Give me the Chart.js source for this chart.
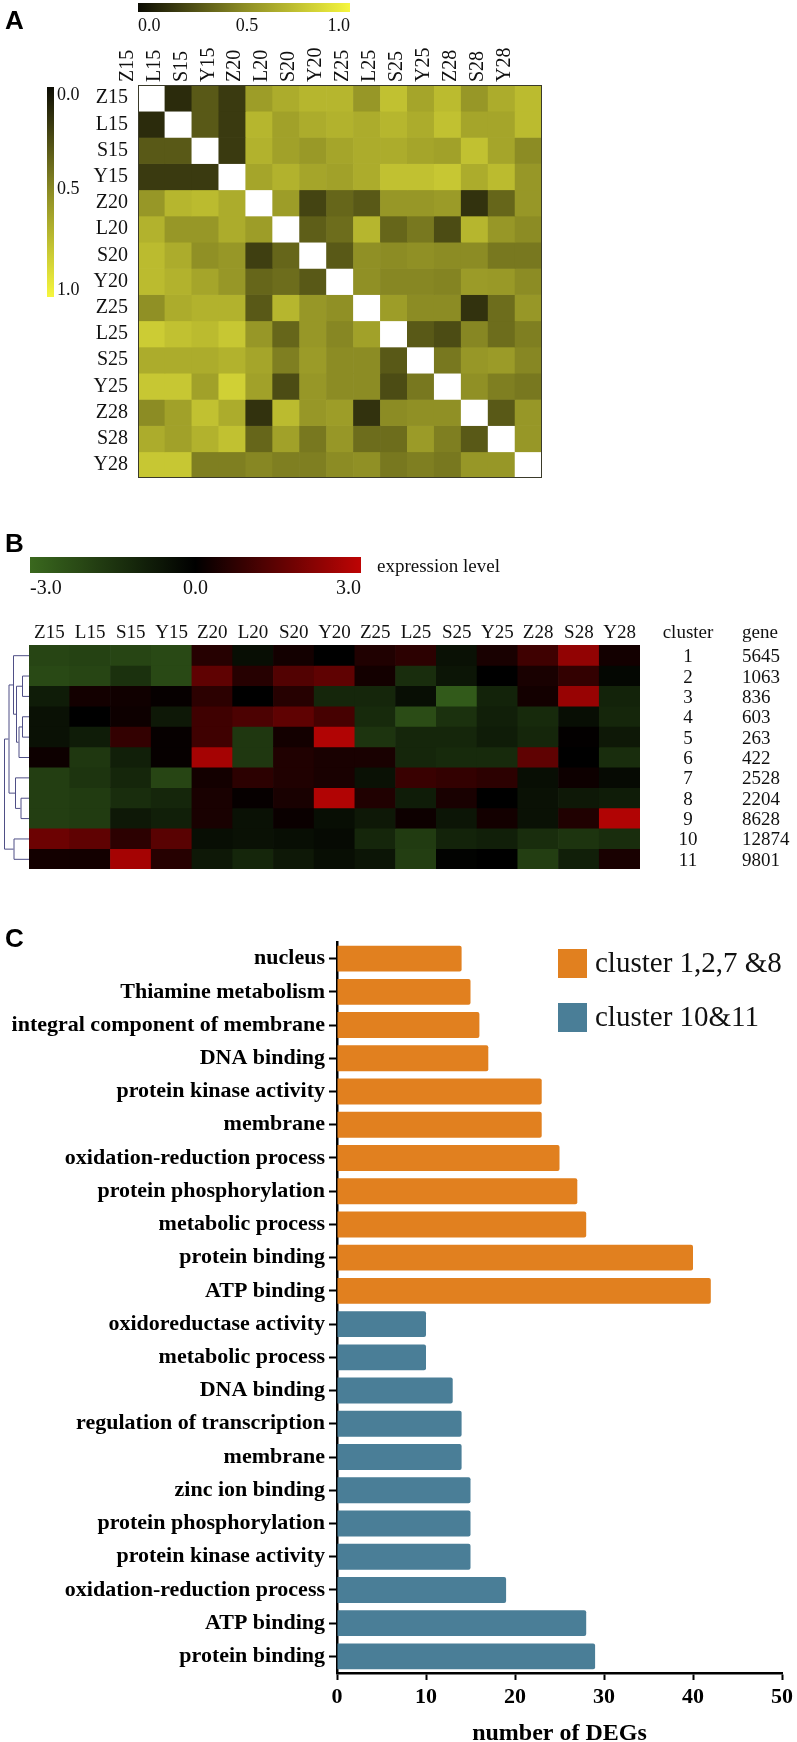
<!DOCTYPE html>
<html><head><meta charset="utf-8">
<script src="https://cdn.jsdelivr.net/npm/chart.js@4.4.1/dist/chart.umd.min.js"></script>
<style>
html,body{margin:0;padding:0;background:#fff;}
body{width:797px;height:1742px;position:relative;overflow:hidden;}
canvas{position:absolute;}
</style></head><body>
<canvas id="cA" width="560" height="500" style="left:0;top:0;width:560px;height:500px"></canvas>
<canvas id="cB" width="797" height="380" style="left:0;top:500px;width:797px;height:380px"></canvas>
<canvas id="cC" width="797" height="848" style="left:0;top:900px;width:797px;height:848px"></canvas>
<script>
// ---------- DATA ----------
const samples = ['Z15','L15','S15','Y15','Z20','L20','S20','Y20','Z25','L25','S25','Y25','Z28','S28','Y28'];
const corrTicks = ['0.0','0.5','1.0'];
const corrValues = [
 [null,0.12,0.30,0.18,0.58,0.65,0.70,0.70,0.55,0.75,0.62,0.72,0.55,0.65,0.72],
 [0.12,null,0.30,0.18,0.70,0.60,0.65,0.68,0.65,0.70,0.65,0.75,0.62,0.62,0.72],
 [0.30,0.30,null,0.18,0.68,0.60,0.56,0.62,0.65,0.65,0.62,0.60,0.75,0.62,0.50],
 [0.18,0.18,0.18,null,0.62,0.68,0.62,0.60,0.65,0.75,0.75,0.78,0.65,0.72,0.55],
 [0.55,0.70,0.72,0.65,null,0.58,0.22,0.35,0.30,0.55,0.55,0.57,0.15,0.35,0.55],
 [0.68,0.55,0.55,0.65,0.58,null,0.32,0.38,0.70,0.35,0.42,0.25,0.70,0.55,0.50],
 [0.72,0.65,0.52,0.55,0.20,0.35,null,0.30,0.52,0.50,0.52,0.50,0.50,0.42,0.42],
 [0.72,0.68,0.62,0.55,0.35,0.38,0.30,null,0.52,0.48,0.48,0.47,0.57,0.56,0.50],
 [0.52,0.65,0.68,0.68,0.30,0.70,0.55,0.52,null,0.58,0.50,0.50,0.15,0.38,0.55],
 [0.80,0.75,0.72,0.78,0.55,0.35,0.55,0.48,0.60,null,0.30,0.25,0.48,0.38,0.45],
 [0.65,0.65,0.65,0.68,0.62,0.45,0.57,0.50,0.50,0.30,null,0.42,0.55,0.57,0.48],
 [0.78,0.78,0.60,0.82,0.60,0.25,0.55,0.50,0.50,0.25,0.42,null,0.52,0.45,0.42],
 [0.50,0.60,0.75,0.65,0.15,0.72,0.55,0.58,0.15,0.50,0.52,0.52,null,0.30,0.55],
 [0.65,0.60,0.68,0.75,0.35,0.60,0.42,0.55,0.38,0.38,0.57,0.45,0.30,null,0.55],
 [0.78,0.78,0.45,0.45,0.48,0.45,0.45,0.50,0.52,0.42,0.45,0.42,0.55,0.55,null]
];

const exprTicks = ['-3.0','0.0','3.0'];
const clusterIds = ['1','2','3','4','5','6','7','8','9','10','11'];
const geneCounts = ['5645','1063','836','603','263','422','2528','2204','8628','12874','9801'];
const exprValues = [
 [-2.0,-1.9,-2.0,-2.1, 0.6,-0.4, 0.3, 0.0, 0.5, 0.7,-0.5, 0.4, 1.0, 2.3, 0.3],
 [-2.1,-2.0,-1.4,-2.1, 1.5, 0.6, 1.3, 1.5, 0.3,-1.3,-0.6, 0.0, 0.4, 0.8,-0.2],
 [-0.8, 0.3, 0.25,0.1, 0.7, 0.0, 0.6,-1.1,-1.1,-0.4,-2.6,-1.0, 0.3, 2.4,-1.0],
 [-0.5, 0.0, 0.2,-0.7, 1.0, 1.2, 1.5, 1.1,-1.2,-2.2,-1.4,-0.9,-1.2,-0.4,-1.1],
 [-0.5,-0.8, 0.8, 0.1, 1.0,-1.6, 0.3, 2.8,-1.5,-1.1,-1.1,-0.8,-1.1, 0.05,-0.7],
 [ 0.2,-1.6,-0.9, 0.1, 2.6,-1.6, 0.5, 0.4, 0.4,-1.1,-1.2,-1.2, 1.5, 0.0,-1.3],
 [-1.8,-1.5,-1.1,-2.0, 0.3, 0.7, 0.5, 0.4,-0.5, 0.9, 0.8, 0.7,-0.4, 0.2,-0.3],
 [-1.8,-1.7,-1.3,-1.1, 0.4, 0.1, 0.4, 2.8, 0.5,-0.8, 0.4, 0.0,-0.5,-0.7,-0.8],
 [-1.8,-1.7,-0.7,-0.9, 0.4,-0.5, 0.15,-0.4,-0.7,0.2,-0.6, 0.3,-0.5, 0.5, 2.8],
 [ 1.7, 1.5, 0.7, 1.4,-0.4,-0.5,-0.4,-0.3,-1.1,-1.7,-1.0,-0.9,-1.3,-1.5,-1.3],
 [ 0.3, 0.3, 2.6, 0.6,-0.7,-1.1,-0.7,-0.4,-0.6,-1.8,-0.1, 0.0,-1.8,-0.9, 0.4]
];
// dendrogram merges: [childA, childB, height 0..1]; leaves 0..10, new nodes 11..
const dendroMerges = [
 [1,2,0.28],[3,4,0.28],[12,5,0.42],[11,13,0.52],[0,14,0.64],
 [7,8,0.34],[6,16,0.56],[15,17,0.82],[9,10,0.62],[18,19,1.0]
];

const orangeLabel = 'cluster 1,2,7 &8';
const blueLabel = 'cluster 10&11';
const orangeTerms = ['nucleus','Thiamine metabolism','integral component of membrane','DNA binding','protein kinase activity','membrane','oxidation-reduction process','protein phosphorylation','metabolic process','protein binding','ATP binding'];
const orangeCounts = [14,15,16,17,23,23,25,27,28,40,42];
const blueTerms = ['oxidoreductase activity','metabolic process','DNA binding','regulation of transcription','membrane','zinc ion binding','protein phosphorylation','protein kinase activity','oxidation-reduction process','ATP binding','protein binding'];
const blueCounts = [10,10,13,14,14,15,15,15,19,28,29];
const degTicks = [0,10,20,30,40,50];

// ---------- HELPERS ----------
const SERIF = "'Liberation Serif','Times New Roman',serif";
const SANS = "'Liberation Sans',Arial,sans-serif";
const corrStops = [[0,[12,12,4]],[0.5,[140,140,36]],[1,[246,246,62]]];
const exprStops = [[0,[58,104,30]],[0.5,[0,0,0]],[1,[190,4,4]]];
function lerpColor(stops,t){
  t=Math.max(0,Math.min(1,t));
  for(let i=1;i<stops.length;i++){
    if(t<=stops[i][0]){
      const [t0,c0]=stops[i-1],[t1,c1]=stops[i];
      const f=(t-t0)/(t1-t0);
      return 'rgb('+[0,1,2].map(k=>Math.round(c0[k]+(c1[k]-c0[k])*f)).join(',')+')';
    }
  }
}
const corrColor = v => v===null ? '#ffffff' : lerpColor(corrStops,v);
const exprColor = v => lerpColor(exprStops,(v+3)/6);
function gradient(ctx,x0,y0,x1,y1,stops){
  const g=ctx.createLinearGradient(x0,y0,x1,y1);
  for(let i=0;i<=20;i++){g.addColorStop(i/20,lerpColor(stops,i/20));}
  return g;
}
Chart.defaults.font.family = SERIF;
Chart.defaults.color = '#111';

// ---------- PANEL A ----------
new Chart(document.getElementById('cA'),{
  type:'bar',
  data:{
    labels:samples,
    datasets:samples.map((rowName,r)=>({
      label:rowName, yAxisID:'y', xAxisID:'x',
      data:samples.map(()=>1),
      backgroundColor:samples.map((c,j)=>corrColor(corrValues[r][j])),
      borderWidth:0, barPercentage:1, categoryPercentage:1, stack:'s'
    }))
  },
  options:{
    responsive:false, animation:false, devicePixelRatio:1,
    layout:{padding:{left:0,top:0,right:18,bottom:13}},
    plugins:{legend:{display:false},tooltip:{enabled:false}},
    scales:{
      x:{type:'category',position:'top',stacked:true,offset:true,
         grid:{display:false,drawTicks:false},border:{display:false},
         ticks:{font:{family:SERIF,size:20},color:'#111',minRotation:90,maxRotation:90,padding:3,autoSkip:false},
         afterFit(s){s.height=85;}},
      y:{type:'linear',stacked:true,min:0,max:samples.length,reverse:true,display:false},
      rows:{type:'category',labels:samples,position:'left',offset:true,
         grid:{display:false,drawTicks:false},border:{display:false},
         ticks:{font:{family:SERIF,size:20},color:'#111',padding:10,autoSkip:false},
         afterFit(s){s.width=138;}}
    }
  },
  plugins:[{id:'panelA',afterDraw(chart){
    const ctx=chart.ctx, ca=chart.chartArea;
    ctx.save();
    ctx.strokeStyle='#3a3a2a';ctx.lineWidth=1;
    ctx.strokeRect(ca.left+0.5,ca.top+0.5,ca.width-1,ca.height-1);
    // panel letter
    ctx.fillStyle='#000';ctx.font='bold 26px '+SANS;ctx.textBaseline='alphabetic';ctx.textAlign='left';
    ctx.fillText('A',5,29);
    // top colour bar
    const tx0=ca.left, tx1=350, ty0=3, ty1=12;
    ctx.fillStyle=gradient(ctx,tx0,0,tx1,0,corrStops);
    ctx.fillRect(tx0,ty0,tx1-tx0,ty1-ty0);
    ctx.fillStyle='#111';ctx.font='18px '+SERIF;ctx.textBaseline='middle';
    ctx.textAlign='left';ctx.fillText(corrTicks[0],tx0,26);
    ctx.textAlign='center';ctx.fillText(corrTicks[1],(tx0+tx1)/2+3,26);
    ctx.textAlign='right';ctx.fillText(corrTicks[2],tx1,26);
    // left colour bar
    const lx0=47, lx1=54, ly0=87, ly1=297;
    ctx.fillStyle=gradient(ctx,0,ly0,0,ly1,corrStops);
    ctx.fillRect(lx0,ly0,lx1-lx0,ly1-ly0);
    ctx.fillStyle='#111';ctx.textAlign='left';
    ctx.fillText(corrTicks[0],57,95);
    ctx.fillText(corrTicks[1],57,189);
    ctx.fillText(corrTicks[2],57,290);
    ctx.restore();
  }}]
});

// ---------- PANEL B ----------
new Chart(document.getElementById('cB'),{
  type:'bar',
  data:{
    labels:samples,
    datasets:exprValues.map((row,r)=>({
      label:clusterIds[r], yAxisID:'y',
      data:samples.map(()=>1),
      backgroundColor:row.map(exprColor),
      borderWidth:0, barPercentage:1, categoryPercentage:1, stack:'s'
    }))
  },
  options:{
    responsive:false, animation:false, devicePixelRatio:1,
    layout:{padding:{left:29,top:0,right:157,bottom:11}},
    plugins:{legend:{display:false},tooltip:{enabled:false}},
    scales:{
      x:{type:'category',position:'top',stacked:true,offset:true,
         grid:{display:false,drawTicks:false},border:{display:false},
         ticks:{font:{family:SERIF,size:19},color:'#111',maxRotation:0,minRotation:0,padding:1,autoSkip:false},
         afterFit(s){s.height=145;}},
      y:{type:'linear',stacked:true,min:0,max:clusterIds.length,reverse:true,display:false}
    }
  },
  plugins:[{id:'panelB',afterDraw(chart){
    const ctx=chart.ctx, ca=chart.chartArea, ys=chart.scales.y;
    ctx.save();
    ctx.fillStyle='#000';ctx.font='bold 26px '+SANS;ctx.textBaseline='alphabetic';ctx.textAlign='left';
    ctx.fillText('B',5,52);
    // colour bar
    const bx0=30,bx1=361,by0=57,by1=73;
    ctx.fillStyle=gradient(ctx,bx0,0,bx1,0,exprStops);
    ctx.fillRect(bx0,by0,bx1-bx0,by1-by0);
    ctx.fillStyle='#111';ctx.font='20px '+SERIF;ctx.textBaseline='middle';
    ctx.textAlign='left';ctx.fillText(exprTicks[0],bx0,89);
    ctx.textAlign='center';ctx.fillText(exprTicks[1],(bx0+bx1)/2,89);
    ctx.textAlign='right';ctx.fillText(exprTicks[2],bx1,89);
    ctx.font='19px '+SERIF;ctx.textAlign='left';
    ctx.fillText('expression level',377,67);
    // cluster / gene table
    const headY=ca.top-1-19*1.2/2;
    ctx.font='19px '+SERIF;
    ctx.textAlign='center';ctx.fillText('cluster',688,headY);
    ctx.textAlign='left';ctx.fillText('gene',742,headY);
    clusterIds.forEach((c,i)=>{
      const y=ys.getPixelForValue(i+0.5)+2;
      ctx.textAlign='center';ctx.fillText(c,688,y);
      ctx.textAlign='left';ctx.fillText(geneCounts[i],742,y);
    });
    // dendrogram
    const nodes=clusterIds.map((c,i)=>({x:ca.left,y:ys.getPixelForValue(i+0.5)}));
    const hx=h=>ca.left-h*25;
    ctx.strokeStyle='#4f4f86';ctx.lineWidth=1;
    dendroMerges.forEach(([a,b,h])=>{
      const A=nodes[a],B=nodes[b],x=hx(h);
      ctx.beginPath();
      ctx.moveTo(A.x,A.y+0.5);ctx.lineTo(x+0.5,A.y+0.5);ctx.lineTo(x+0.5,B.y+0.5);ctx.lineTo(B.x,B.y+0.5);
      ctx.stroke();
      nodes.push({x:x,y:(A.y+B.y)/2});
    });
    ctx.restore();
  }}]
});

// ---------- PANEL C ----------
const goTerms = orangeTerms.concat(blueTerms);
const orangeData = orangeCounts.concat(blueTerms.map(()=>null));
const blueData = orangeTerms.map(()=>null).concat(blueCounts);
new Chart(document.getElementById('cC'),{
  type:'bar',
  data:{
    labels:goTerms,
    datasets:[
      {label:orangeLabel,data:orangeData,backgroundColor:'#e1801f'},
      {label:blueLabel,data:blueData,backgroundColor:'#4a7e97'}
    ]
  },
  options:{
    indexAxis:'y',
    responsive:false, animation:false, devicePixelRatio:1,
    layout:{padding:{left:0,top:42,right:14,bottom:0}},
    datasets:{bar:{grouped:false,barPercentage:0.78,categoryPercentage:1,borderRadius:2,borderSkipped:'start'}},
    plugins:{legend:{display:false},tooltip:{enabled:false}},
    scales:{
      x:{type:'linear',min:degTicks[0],max:degTicks[degTicks.length-1],
         afterBuildTicks(s){s.ticks=degTicks.map(v=>({value:v}));},
         grid:{display:true,drawOnChartArea:false,drawTicks:true,tickLength:7,tickWidth:2,tickColor:'#000'},
         border:{display:true,width:2.5,color:'#000'},
         ticks:{font:{family:SERIF,size:22,weight:'bold'},color:'#000',padding:4},
         title:{display:true,text:'number of DEGs',font:{family:SERIF,size:24,weight:'bold'},color:'#000',padding:{top:0,bottom:0}},
         afterFit(s){s.height=75;}},
      y:{type:'category',
         grid:{display:true,drawOnChartArea:false,offset:false,drawTicks:true,tickLength:8,tickWidth:2,tickColor:'#000'},
         border:{display:true,width:2.5,color:'#000'},
         ticks:{font:{family:SERIF,size:22,weight:'bold'},color:'#000',padding:4,autoSkip:false},
         afterFit(s){s.width=337;}}
    }
  },
  plugins:[{id:'panelC',afterDraw(chart){
    const ctx=chart.ctx;
    ctx.save();
    ctx.fillStyle='#000';ctx.font='bold 26px '+SANS;ctx.textBaseline='alphabetic';ctx.textAlign='left';
    ctx.fillText('C',5,47);
    const items=[[orangeLabel,'#e1801f',49],[blueLabel,'#4a7e97',103]];
    ctx.font='29px '+SERIF;ctx.textBaseline='middle';
    items.forEach(([t,c,y])=>{
      ctx.fillStyle=c;ctx.fillRect(558,y,29,29);
      ctx.fillStyle='#111';ctx.fillText(t,595,y+15);
    });
    ctx.restore();
  }}]
});
</script>
</body></html>
